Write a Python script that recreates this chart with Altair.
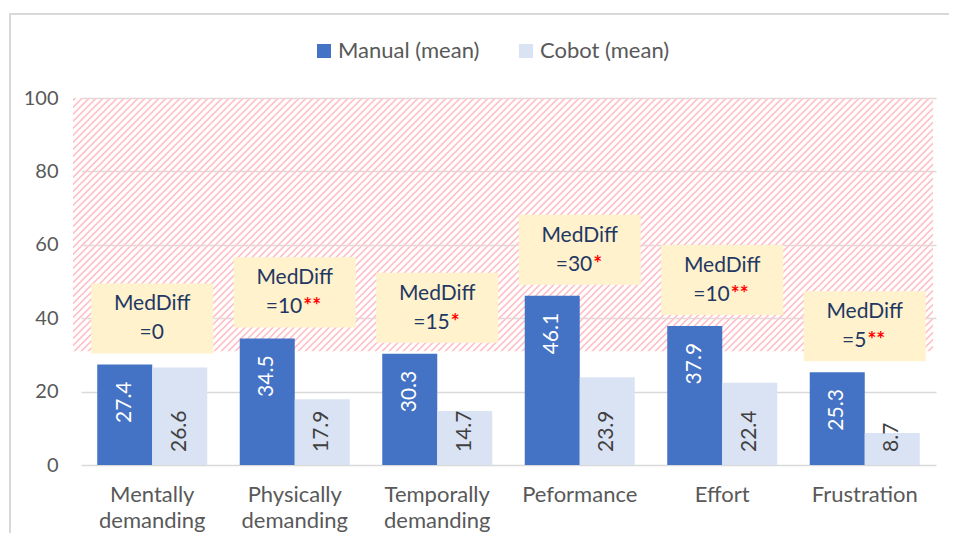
import altair as alt
import pandas as pd

# ---- data ----
categories = ["Mentally demanding", "Physically demanding", "Temporally demanding",
              "Peformance", "Effort", "Frustration"]
manual = [27.4, 34.5, 30.3, 46.1, 37.9, 25.3]
cobot = [26.6, 17.9, 14.7, 23.9, 22.4, 8.7]
med_diff = ["=0", "=10", "=15", "=30", "=10", "=5"]
stars = ["", "**", "*", "*", "**", "**"]
series_names = ["Manual (mean)", "Cobot (mean)"]
y_ticks = [0, 20, 40, 60, 80, 100]
hatch_from = [31]
hatch_to = [100]

# ---- tables ----
long = pd.DataFrame({
    "category": categories * 2,
    "series": [series_names[0]] * len(categories) + [series_names[1]] * len(categories),
    "value": manual + cobot,
})
ann = pd.DataFrame({"category": categories, "manual": manual, "diff": med_diff, "stars": stars})
hatch = pd.DataFrame({"lo": hatch_from, "hi": hatch_to})
one = pd.DataFrame({"k": [0]})

FONT = "Lato"
NAVY = "#1F3864"
GRAY = "#595959"
PINK = "#FFC4CB"
CLEAR = "rgba(255,255,255,0)"

# ---- diagonal hatch built as a striped linear gradient (styling only) ----
W, H = 860.0, 253.0
s = (1 / H + 1 / W) / (1 / H ** 2 + 1 / W ** 2)
n = int(round((W + H) / 7.0))
stops = []
for k in range(n):
    stops += [alt.GradientStop(color=CLEAR, offset=k / n),
              alt.GradientStop(color=PINK, offset=(k + 0.22) / n),
              alt.GradientStop(color=PINK, offset=(k + 0.42) / n),
              alt.GradientStop(color=CLEAR, offset=(k + 0.64) / n)]
stops.append(alt.GradientStop(color=CLEAR, offset=1))
grad = alt.LinearGradient(gradient="linear", stops=stops, x1=0, y1=0, x2=s / H, y2=s / W)

xenc = alt.X("category:N", sort=categories, title=None,
             scale=alt.Scale(paddingInner=0.228, paddingOuter=0.114))
yscale = alt.Scale(domain=[0, 100])
xoff_bar = alt.XOffset("series:N", sort=series_names,
                       scale=alt.Scale(type="band", domain=series_names,
                                       paddingInner=0, paddingOuter=0))
xoff_txt = alt.XOffset("series:N", sort=series_names,
                       scale=alt.Scale(type="point", domain=series_names, padding=0.5))

# outer chart frame as thin filled strips (only its left and top sides are in view)
top_line = alt.Chart(one).mark_rect(color="#D9D9D9", strokeWidth=0).encode(
    x=alt.value(-72), x2=alt.value(868), y=alt.value(-85), y2=alt.value(-83))
left_line = alt.Chart(one).mark_rect(color="#D9D9D9", strokeWidth=0).encode(
    x=alt.value(-72), x2=alt.value(-70), y=alt.value(-85), y2=alt.value(435))

hatch_layer = alt.Chart(hatch).mark_rect(fill=grad).encode(
    x=alt.value(-8), x2=alt.value(852),
    y=alt.Y("hi:Q", scale=yscale), y2="lo:Q")

bars = alt.Chart(long).mark_bar().encode(
    x=xenc,
    xOffset=xoff_bar,
    y=alt.Y("value:Q", scale=yscale, title=None,
            axis=alt.Axis(values=y_ticks, ticks=False, tickSize=0, domain=False,
                          labelPadding=23)),
    color=alt.Color("series:N", sort=series_names,
                    scale=alt.Scale(domain=series_names, range=["#4472C4", "#DAE3F3"]),
                    legend=alt.Legend(title=None, orient="none", legendX=232, legendY=-58,
                                      direction="horizontal", symbolType="square",
                                      symbolSize=196, symbolStrokeWidth=0,
                                      labelFont=FONT, labelFontSize=22, labelColor=GRAY,
                                      columnPadding=35, labelOffset=3)),
)

man_lab = alt.Chart(long).transform_filter(
    alt.datum.series == series_names[0]
).mark_text(angle=270, align="right", baseline="middle", dx=-17, color="white",
            font=FONT, fontSize=21).encode(
    x=xenc, xOffset=xoff_txt, y=alt.Y("value:Q", scale=yscale),
    text=alt.Text("value:Q", format=".1f"))

cob_lab = alt.Chart(long).transform_filter(
    alt.datum.series == series_names[1]
).mark_text(angle=270, align="left", baseline="middle", dx=13, color="#404040",
            font=FONT, fontSize=21).encode(
    x=xenc, xOffset=xoff_txt, y=alt.datum(0, scale=yscale),
    text=alt.Text("value:Q", format=".1f"))

box_path = "M-1,-0.574L1,-0.574L1,0.574L-1,0.574Z"
boxes = alt.Chart(ann).mark_point(shape=box_path, size=14884, filled=True, color="#FFF2CC",
                                  opacity=1, strokeWidth=0, yOffset=-46).encode(
    x=xenc, y=alt.Y("manual:Q", scale=yscale))

med_txt = alt.Chart(ann).mark_text(text="MedDiff", baseline="middle", align="center",
                                   yOffset=-60, color=NAVY, font=FONT, fontSize=21).encode(
    x=xenc, y=alt.Y("manual:Q", scale=yscale))

# split point between the navy value and the red asterisks (band half-width 55 px)
split = "55 + (length(datum.diff) * 11.7 - length(datum.stars) * 10) / 2"
diff_txt = alt.Chart(ann).transform_calculate(off=split).mark_text(
    align="right", baseline="middle", yOffset=-31, color=NAVY, font=FONT, fontSize=21).encode(
    x=xenc, y=alt.Y("manual:Q", scale=yscale),
    xOffset=alt.XOffset("off:Q", scale=None), text="diff:N")

star_txt = alt.Chart(ann).transform_filter("length(datum.stars) > 0").transform_calculate(
    off=split).mark_text(
    align="left", baseline="middle", yOffset=-31, dx=1, color="#FF0000", font=FONT,
    fontSize=21, fontWeight="bold").encode(
    x=xenc, y=alt.Y("manual:Q", scale=yscale),
    xOffset=alt.XOffset("off:Q", scale=None), text="stars:N")

chart = alt.layer(
    top_line, left_line, hatch_layer, bars, man_lab, cob_lab, boxes, med_txt, diff_txt, star_txt
).resolve_scale(xOffset="independent").properties(
    width=855, height=367,
    autosize=alt.AutoSizeParams(type="none"),
    padding={"left": 73, "top": 90, "right": 13, "bottom": 68},
).configure(font=FONT).configure_view(strokeWidth=0).configure_axis(
    grid=True, gridColor="#D9D9D9", gridWidth=1.5,
    labelFont=FONT, labelColor=GRAY, labelFontSize=20,
).configure_axisX(
    grid=False, ticks=False, domain=False, labelAngle=0, labelPadding=19,
    labelLineHeight=26, labelFontSize=22, labelExpr="split(datum.label, ' ')",
).configure_axisY(domain=False, ticks=False)

chart.save("out.html", embed_options={"renderer": "svg", "actions": False})
